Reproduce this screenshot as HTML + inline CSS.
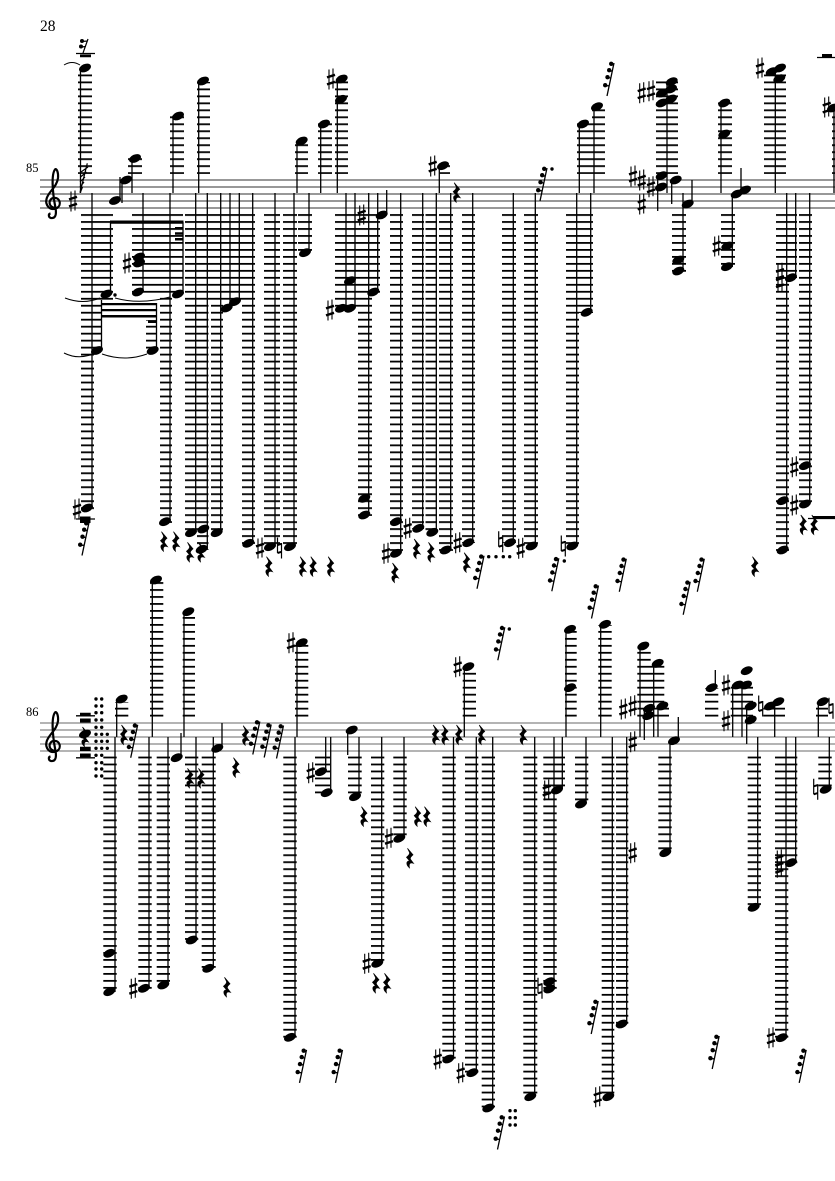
<!DOCTYPE html>
<html><head><meta charset="utf-8"><title>Score page 28</title>
<style>html,body{margin:0;padding:0;background:#fff}svg{display:block}text{font-family:"Liberation Serif",serif;fill:#000}.m{fill:none;stroke:none}</style></head>
<body>
<svg xmlns="http://www.w3.org/2000/svg" width="835" height="1181" viewBox="0 0 835 1181">
<defs>
<pattern id="a" patternUnits="userSpaceOnUse" x="0" y="214.1" width="10" height="6.98"><rect width="10" height="1.8"/></pattern>
<pattern id="b" patternUnits="userSpaceOnUse" x="0" y="756.6" width="10" height="6.98"><rect width="10" height="1.8"/></pattern>
<marker id="n" markerUnits="userSpaceOnUse" markerWidth="20" markerHeight="20" refX="10" refY="10" overflow="visible"><ellipse cx="10" cy="10" rx="6.3" ry="3.9" transform="rotate(-24 10 10)"/></marker>
<marker id="s" markerUnits="userSpaceOnUse" markerWidth="20" markerHeight="30" refX="10" refY="15" overflow="visible"><path d="M8 5.500V25.500M12 4.500V24.500" stroke="#000" stroke-width="1.100"/><path d="M6 13.400L14 10.800M6 20.400L14 17.800" stroke="#000" stroke-width="2.400"/></marker>
<marker id="h" markerUnits="userSpaceOnUse" markerWidth="20" markerHeight="30" refX="10" refY="15" overflow="visible"><path d="M8 4.500V20M12 10V25.500" stroke="#000" stroke-width="1.200"/><path d="M8 12L12 10.800M8 20L12 18.800" stroke="#000" stroke-width="2"/></marker>
<marker id="r" markerUnits="userSpaceOnUse" markerWidth="20" markerHeight="30" refX="10" refY="15" overflow="visible"><path stroke="#000" stroke-width=".7" d="M7.500 5L13 11.500C11 13 10 14.500 10.500 16L13.500 20C10.500 18.800 8.500 20 9.500 24.500C6.500 22 5.500 18 9.500 17.500L6.500 14C9 12 10 10.500 9.500 9Z"/></marker>
<marker id="t" markerUnits="userSpaceOnUse" markerWidth="24" markerHeight="40" refX="12" refY="20" overflow="visible"><path d="M15.500 3.500L8.500 36.500" stroke="#000" stroke-width="1.300" fill="none"/><path d="M12.700 4.700L15.300 5.500M10.700 11.200L13.800 11.700M9 18.200L12.400 18.500M6.700 26.200L10.700 26.300" stroke="#000" stroke-width="1.300" fill="none"/><circle cx="12.700" cy="4.300" r="2.200"/><circle cx="10.700" cy="10.700" r="2.200"/><circle cx="9" cy="17.700" r="2.200"/><circle cx="6.700" cy="25.700" r="2.200"/></marker>
<marker id="d" markerUnits="userSpaceOnUse" markerWidth="6" markerHeight="6" refX="3" refY="3" overflow="visible"><circle cx="3" cy="3" r="1.700"/></marker>
</defs>
<rect width="835" height="1181" fill="#fff"/>

<text x="40" y="31" font-size="15.500">28</text>
<text x="26" y="172" font-size="12.500">85</text>
<text x="26" y="716" font-size="12.500">86</text>

<!-- staves -->
<path stroke="#5a5a5a" stroke-width="1.200" fill="none" d="M40 180H835M40 187H835M40 194H835M40 201H835M40 208H835"/>
<path stroke="#6a6a6a" stroke-width="1.100" fill="none" d="M40 723H835M40 730H835M40 737H835M40 744H835M40 751H835"/>

<!-- clefs -->
<path fill="none" stroke="#000" stroke-width="2.200" d="M55 208C48 207 48 199 53.500 198C60 197 62 205 57 208C50 211.500 45 205 46.500 199C48 192 57 187 58 178C58.500 172 56.500 168 55 169.500C51.500 174 52 190 55.500 208C57 216 54.500 218.500 51 218C48.500 217.500 48 214 50.500 213.500"/>
<path fill="none" stroke="#000" stroke-width="2.200" transform="translate(0 543)" d="M55 208C48 207 48 199 53.500 198C60 197 62 205 57 208C50 211.500 45 205 46.500 199C48 192 57 187 58 178C58.500 172 56.500 168 55 169.500C51.500 174 52 190 55.500 208C57 216 54.500 218.500 51 218C48.500 217.500 48 214 50.500 213.500"/>

<!-- ledger lines system 1 -->
<path fill="url(#a)" d="M78 74H92V174H78zM128 158H142V174H128zM170 116H184V174H170zM197 82H210V174H197zM295 143H308V174H295zM318 123H332V174H318zM335 80H348V174H335zM439 164H450V174H439zM577 123H592V174H577zM592 109H605V174H592zM656 81H678V174H656zM718 102H732V174H718zM764 74H786V174H764zM832 109H835V174H832z
M81 214H113V300H81zM81 300H102V352H81zM81 352H94V510H81zM132 214H183V296H132zM146 320H157V352H146zM160 296H172V523H160zM185 214H255V302H185zM185 302H197V534H185zM197 302H208.500V550H197zM211 302H223V534H211zM242 302H255V544H242zM264 214H280V548H264zM283 214H297V548H283zM298 214H312V254H298zM335 214H358V309H335zM358 214H380V293H358zM358 293H372V516H358zM390 214H403V554H390zM412 214H424V529H412zM425.500 214H437V533H425.500zM439 214H453V551H439zM462 214H475V543H462zM502 214H516V543H502zM524 214H538V547H524zM566 214H579V547H566zM579 214H593V313H579zM672 214H686V272H672zM721 214H735V268H721zM776 214H797V278H776zM776 278H789V551H776zM799 214H812V505H799z"/>
<!-- ledger lines system 2 -->
<path fill="url(#b)" d="M115 702H128.300V718H115zM150 581H163.300V718H150zM182.700 612H195V718H182.700zM295 644H308.300V718H295zM462.700 668H476V718H462.700zM565 631H576.700V718H565zM598.300 625H611.700V718H598.300zM637.300 647H650.700V718H637.300zM650.700 664H664.300V718H650.700zM664.300 706H669V718H664.300zM705 688H718.300V718H705zM730.700 686H753V718H730.700zM763.300 706H785V718H763.300zM816 703H828V718H816z
M103.300 756H116.700V993H103.300zM138.300 756H151.700V989H138.300zM156.700 756H170V986H156.700zM185 756H198.300V941H185zM201.700 756H215.700V969H201.700zM283.300 756H296.700V1038H283.300zM315 756H330V794H315zM348 756H361.700V798H348zM371 756H384.300V964H371zM393.300 756H406.700V839H393.300zM442.300 756H455.700V1060H442.300zM465 756H478.300V1074H465zM481.700 756H495V1109H481.700zM523.300 756H537.300V1098H523.300zM543.300 756H556.700V990H543.300zM552 756H565V790H552zM575 756H588.300V805H575zM601.700 756H614.300V1098H601.700zM616 756H628.300V1025H616zM658.300 756H671.700V854H658.300zM747.700 756H761V908H747.700zM775 756H797.300V864H775zM775 864H788.300V1038H775zM818.300 756H831.700V790H818.300z"/>

<!-- stems -->
<path fill="none" stroke="#000" stroke-width="1.300" d="M92 193V508M110.500 222V294M143 193V292M170 193V522M183 222V294M101.500 300V350M156.500 303V350M195.700 193V533M207.300 193V549M220.700 193V533M230 193V308M239.300 193V302M252.700 193V543M275 193V547M294 193V547M309 193V253M346 193V308M355 193V308M368.700 193V515M377.700 193V292M386.700 190V215M400.700 193V553M422.700 193V528M436.300 193V532M450.700 193V550M472.700 193V543M513.300 193V543M535.300 193V546M576.700 193V546M590.700 193V312M683 193V271M732.300 193V267M741 168V190M786.700 193V550M795.700 193V278M809.700 193V504M657.700 177V211M671.700 180V204M692 180V204
M80.500 68V193M120 177V200M122 180V203M132 159V193M173 116V193M198.700 81V193M297 141V193M320.700 124V193M337.300 79V193M439.300 166V193M579.300 124V193M594 107V193M667 82V193M721 103V193M775.300 68V193M834 108V193
M115 737V992M149 737V988M168 737V985M196 737V940M213.300 737V968M295 737V1037M325.700 737V772M330.700 737V793M359 737V797M381.700 737V963M404 737V838M453.500 737V1059M476.300 737V1073M492.700 737V1108M534.700 737V1097M554 737V989M562.300 737V789M586 737V804M612.300 737V1097M626.700 737V1024M670 740V853M757.700 737V907M786 737V1037M795.700 737V863M829.300 737V789
M116.700 699V737M152.300 580V737M181 733V757M184 612V737M222 723V748M297 643V737M347.700 730V755M464.300 667V737M566 630V737M600.700 624V737M640 646V737M653.700 663V737M658 706V737M644.300 708V740M678.300 717V740M715.300 670V688M732.700 685V737M742 685V737M746.700 706V744M774.700 702V737M818.300 702V737"/>

<!-- beams and block rests -->
<path d="M110 220.500H183.500V223.700H110zM175 227H183.500V229.500H175zM175 232.300H183.500V234.800H175zM175 238H183.500V240.500H175zM101 303H157V305.300H101zM101 309H157V311.300H101zM101 315H157V317.500H101zM148 320.500H157V323H148z
M80 54.500H91V57.300H80zM80 516.500H90.500V523H80zM813 516H835V519H813zM822 54H832V57H822z
M80 712.700H90.700V715.700H80zM80 718.500H90.700V722.500H80zM80 746.700H90.700V751H80zM80 753.500H90.700V757.300H80z"/>
<path fill="none" stroke="#000" stroke-width="1.300" d="M76 53.500H95M76 519H95M808 518.500H835M817 57.500H835M76 715.800H95M76 757.800H95"/>

<!-- tremolo on first note and small rest -->
<path fill="none" stroke="#000" stroke-width="1.200" d="M87.300 163.300L80 192.700M81 172L88 167M80.500 177L86.500 172M80 182L85 177M80 187L84 182M80.500 192L82.500 187"/>
<path fill="none" stroke="#000" stroke-width="1.200" d="M88 39L83 53M82 41.500L87.500 41M81 47L86 46.500"/>
<circle cx="82" cy="41" r="2"/><circle cx="81" cy="46.500" r="2"/>

<!-- slurs -->
<path fill="none" stroke="#000" stroke-width="1" d="M64 65Q72 60 80 65M65 298Q83 305 100 298M115 298Q140 305 170 297M64 353Q80 361 97 352M102 354Q125 362 147 354"/>

<!-- noteheads -->
<polyline class="m" marker-start="url(#n)" marker-mid="url(#n)" marker-end="url(#n)" points="85,68 115,200.500 126,180 135,158.500 178,116 203,81 106.500,294 138,292 139,257 139,263 178,294 97,350.500 152.700,350.500 87,508 165,521.700 191,532.700 203.300,529 201.700,549.300 216.700,532.700 226.700,308 235,301.700 248.300,543.300 270,546.700 290,546.700 305,252.700 341,308.300 350,308.300 350,280.700 373.300,292 381.700,215 364.300,515 364.300,498.300 396,521.700 396,553.300 418.300,528.300 432.300,532.300 445.700,550 468.300,542.700 510,542.700 531.700,546 586.700,312.300 572.300,546 782.700,500.700 782.700,550 805,465.700 805,504 791,277.700 301.700,141 324,124 341.700,79 341,99.300 443,165.700 583,124 597,106.700 671.700,81.700 671,89 662,93 671,99 661.700,103 661.700,175.700 661,187 675.700,180 687.700,204 678.300,260 678.300,271 736.700,194 745,190 727,266.700 727.300,246 724.300,103 724.300,134 780,68 771.700,71.700 779.300,78.700 833,108
121.700,699 85,734 109.300,991.700 109.300,953.300 156,580 144,988.300 163.300,985 176.700,757.700 188.300,611.700 191.700,940 208.300,968.300 217.300,748.300 290,1037.300 301.700,642.700 321,771.700 326.700,792.700 351.700,730 355,796.700 399.300,838.300 377.300,963.300 468.300,666.700 448.300,1059 472.300,1072.700 488.300,1108 530.300,1096.700 549.300,981.700 549.300,989 557,790 581,804 570,629.300 570,687.700 605,624.300 621.700,1024 608.300,1096.700 643.300,646 657.700,663.300 662.300,706 649,708.300 648.300,715.700 674,740.700 665.300,852.700 711.700,687.700 737.700,685 746,685 746.700,670.700 750.700,706 750.700,720 770,706 778.300,701.700 822.700,701.700 753.700,907.300 791,862.700 781.700,1037.700 825.700,789.300"/>

<!-- sharps -->
<polyline class="m" marker-start="url(#s)" marker-mid="url(#s)" marker-end="url(#s)" points="73,201 127,263 77,509 260,548 331,79 330,310 361.700,215 386,553.300 407.700,528.300 457.700,542.700 520.700,548.300 432.700,166 651,90.700 641.700,92.700 633,176 641.700,180 651,186.700 641.700,204 716.700,246 760,68 826.700,107 794.300,466.700 794.300,505 780,273.300 780,281.700 133.300,988.300 291,642.700 310.700,772.700 389,838.300 366.700,963.300 457.700,666.700 437.700,1059 460.700,1072.700 546.700,790 597.700,1096.700 632.700,852.700 632.700,741.700 623.300,709 632.700,705.700 726,685 726,720.700 779.300,860 779.300,867.300 771,1037.700"/>

<!-- naturals -->
<polyline class="m" marker-start="url(#h)" marker-mid="url(#h)" marker-end="url(#h)" points="279.500,548 500.700,541.700 563.300,546 540,988.300 760.700,706 831,708.300 815.700,789.300"/>

<!-- quarter rests -->
<polyline class="m" marker-start="url(#r)" marker-mid="url(#r)" marker-end="url(#r)" points="456.700,192.700 164,541.700 176,541.700 190,552.300 201,552.300 269,566.700 302.700,566.700 313.300,566.700 330.700,566.700 395,573 416.700,549 431,552.300 466.700,562.700 755,566.700 803.300,525 814.300,525 85,737 124,735 245.700,735.700 190,778.300 201,778.300 236,767.700 227,987.300 364,816.700 417.700,816.700 427,816.700 410,858.300 376,983.300 387,983.300 435.700,735 445,735 459,735 481.700,735 523.300,735"/>

<!-- flagged rests -->
<polyline class="m" marker-start="url(#t)" marker-mid="url(#t)" marker-end="url(#t)" points="85.500,539 543.500,184.500 610.500,79.500 480.500,572.300 555.300,574.800 622.800,575.300 595,602 700.800,575.300 686.700,598.300 134.200,741.300 256.300,738 267.700,741 280,742 303,1066.400 339,1066.400 501.300,643.700 594.700,1017.500 715.700,1052.500 802.700,1066.400 501,1133"/>

<!-- dots -->
<polyline class="m" marker-start="url(#d)" marker-mid="url(#d)" marker-end="url(#d)" points="115,295 552,169 488.700,556.700 496,556.700 503.300,556.700 509.700,556.700 564.300,561 509.300,629
96,699 101.700,699 96,706 101.700,706 96,712.700 101.700,712.700 96,720 101.700,720 96,727.300 101.700,727.300 96,734.300 101.700,734.300 107.300,734.300 96,741.300 101.700,741.300 107.300,741.300 96,748.300 101.700,748.300 107.300,748.300 96,755.300 101.700,755.300 96,762.700 101.700,762.700 96,769 101.700,769 96,776 101.700,776
510,1110.700 515.300,1110.700 510,1117.700 515.300,1117.700 510,1125 515.300,1125"/>
</svg>
</body></html>
